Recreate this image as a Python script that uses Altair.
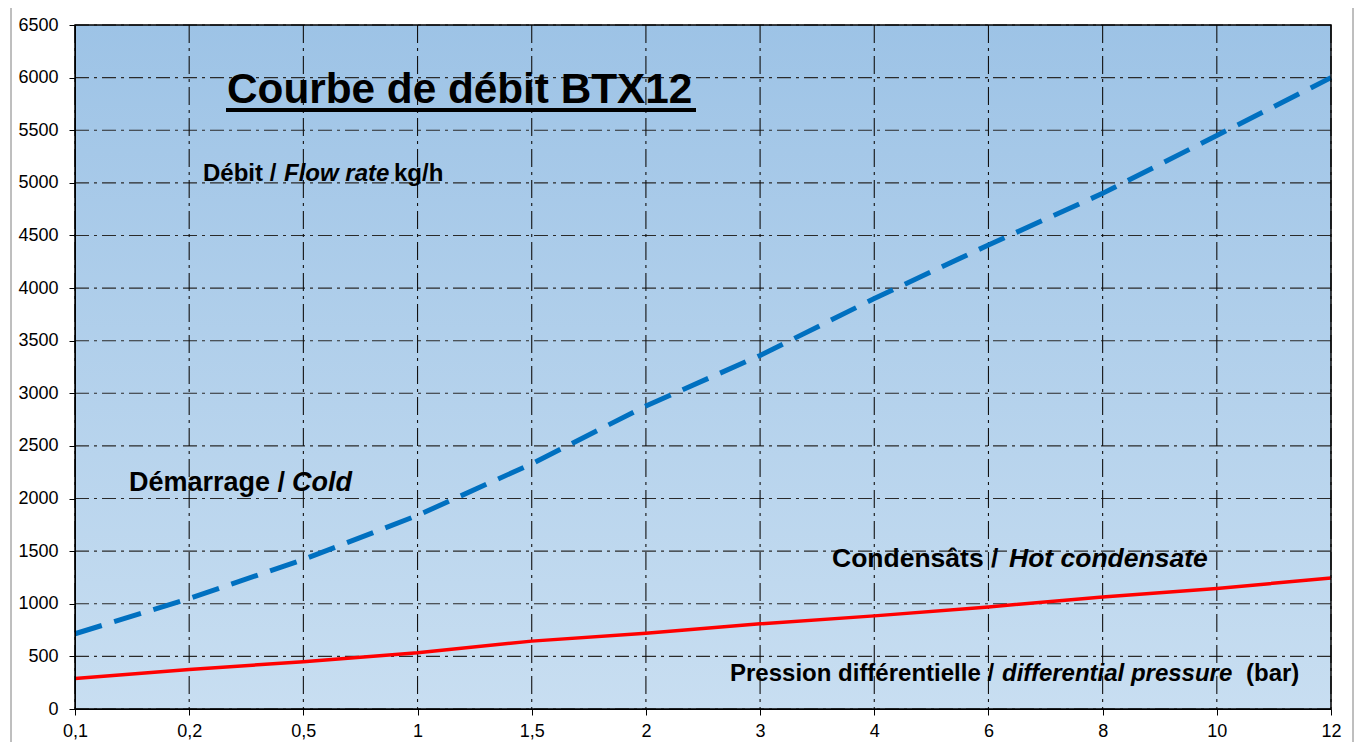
import altair as alt
import pandas as pd

# ---- data ----
x_labels = ["0,1", "0,2", "0,5", "1", "1,5", "2", "3", "4", "6", "8", "10", "12"]
debit_demarrage = [715, 1050, 1420, 1840, 2330, 2880, 3360, 3900, 4410, 4900, 5450, 6000]
debit_condensats = [290, 375, 450, 535, 645, 720, 810, 885, 970, 1065, 1145, 1245]
y_ticks = list(range(0, 6501, 500))

W, H = 1256, 684
FONT = "Liberation Sans"

xscale = alt.Scale(type="point", domain=x_labels, padding=0)
yscale = alt.Scale(domain=[0, 6500], nice=False, zero=True)

xaxis = alt.Axis(title=None, grid=False, labelAngle=0, labelFont=FONT, labelFontSize=18,
                 labelColor="black", tickColor="black", tickSize=6, labelPadding=7,
                 domainColor="black", zindex=1)
yaxis = alt.Axis(title=None, grid=False, values=y_ticks, format="d", labelFont=FONT,
                 labelFontSize=18, labelColor="black", tickColor="black", tickSize=6,
                 labelPadding=11, domainColor="black", zindex=1)

one = pd.DataFrame({"k": [0]})

df_cold = pd.DataFrame({"pression": x_labels, "debit": debit_demarrage, "i": range(len(x_labels))})
df_hot = pd.DataFrame({"pression": x_labels, "debit": debit_condensats, "i": range(len(x_labels))})

bg = alt.Chart(one).mark_rect(
    fill=alt.LinearGradient(
        gradient="linear",
        stops=[alt.GradientStop(offset=0, color="#9DC3E6"),
               alt.GradientStop(offset=1, color="#C8DEF1")],
        x1=0, x2=0, y1=0, y2=1),
    strokeWidth=0,
).encode(x=alt.value(0), x2=alt.value(W), y=alt.value(0), y2=alt.value(H))

hgrid = alt.Chart(pd.DataFrame({"debit": y_ticks})).mark_rule(
    color="#2a2a2a", strokeWidth=1.1, strokeDash=[14, 5, 3, 5]
).encode(y=alt.Y("debit:Q", scale=yscale, axis=yaxis))

vgrid = alt.Chart(pd.DataFrame({"pression": x_labels})).mark_rule(
    color="#111111", strokeWidth=1.1, strokeDash=[18, 5, 3, 5]
).encode(x=alt.X("pression:O", scale=xscale, axis=xaxis, sort=x_labels))

hot = alt.Chart(df_hot).mark_line(color="#FF0000", strokeWidth=3.5).encode(
    x=alt.X("pression:O", scale=xscale, axis=xaxis, sort=x_labels),
    y=alt.Y("debit:Q", scale=yscale, axis=yaxis),
    order=alt.Order("i:Q"),
)

cold = alt.Chart(df_cold).mark_line(color="#0070C0", strokeWidth=5, strokeDash=[28, 13]).encode(
    x=alt.X("pression:O", scale=xscale, axis=xaxis, sort=x_labels),
    y=alt.Y("debit:Q", scale=yscale, axis=yaxis),
    order=alt.Order("i:Q"),
)


def txt(s, x, y, size, italic=False):
    kw = dict(text=s, align="left", baseline="alphabetic", font=FONT, fontSize=size,
              fontWeight="bold", color="black")
    if italic:
        kw["fontStyle"] = "italic"
    return alt.Chart(one).mark_text(**kw).encode(x=alt.value(x), y=alt.value(y))


texts = [
    txt("Courbe de débit BTX12", 152, 78, 42.3),
    txt("Débit /", 128, 156, 24),
    txt("Flow rate", 209, 156, 24, True),
    txt("kg/h", 319, 156, 24),
    txt("Démarrage /", 54, 466, 27),
    txt("Cold", 217, 466, 27, True),
    txt("Condensâts /", 757, 542, 26.5),
    txt("Hot condensate", 934, 542, 26.5, True),
    txt("Pression différentielle /", 655, 656, 24),
    txt("differential pressure", 927, 656, 24, True),
    txt("(bar)", 1171, 656, 24),
]

underline = alt.Chart(one).mark_rule(color="black", strokeWidth=4).encode(
    x=alt.value(151), x2=alt.value(621), y=alt.value(85))

frame = alt.Chart(one).mark_rect(fill="transparent", stroke="black", strokeWidth=1.5).encode(
    x=alt.value(0), x2=alt.value(W), y=alt.value(0), y2=alt.value(H))

outer = alt.Chart(one).mark_rect(fill="transparent", stroke="#7f7f7f", strokeWidth=1).encode(
    x=alt.value(-64), x2=alt.value(1278), y=alt.value(-19), y2=alt.value(719))

chart = alt.layer(bg, hgrid, vgrid, hot, cold, *texts, underline, frame, outer).properties(
    width=W, height=H,
    padding={"left": 67, "top": 17, "right": 25, "bottom": 33},
    autosize="none",
).configure_view(stroke=None)

chart.save("out.html", embed_options={"renderer": "svg", "actions": False})
